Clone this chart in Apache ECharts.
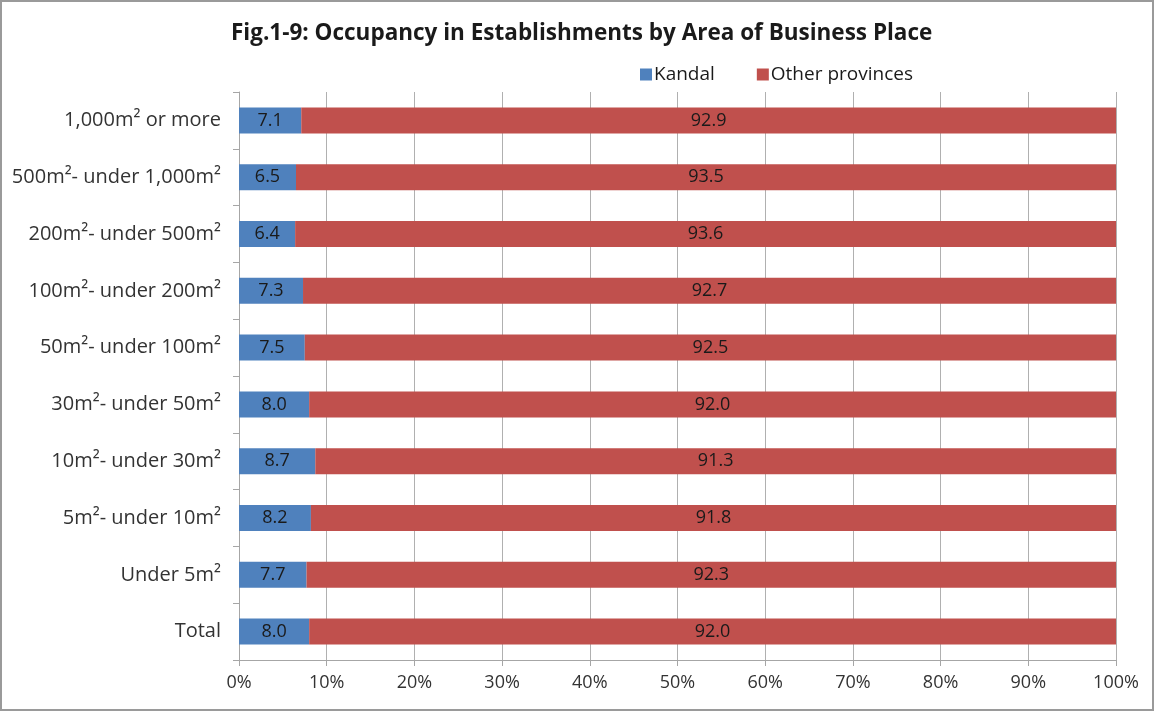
<!DOCTYPE html>
<html>
<head>
<meta charset="utf-8">
<script src="https://cdn.jsdelivr.net/npm/echarts@6/dist/echarts.min.js"></script>
<style>
  html, body { margin: 0; padding: 0; background: #fff; }
  #chart { width: 1154px; height: 711px; box-sizing: border-box; border: 2px solid #9a9a9a; }
</style>
</head>
<body>
<div id="chart"></div>
<script>
// Fig.1-9 — stacked 100% horizontal bars, Kandal vs other provinces.
var categories = [
  "Total",
  "Under 5m²",
  "5m²- under 10m²",
  "10m²- under 30m²",
  "30m²- under 50m²",
  "50m²- under 100m²",
  "100m²- under 200m²",
  "200m²- under 500m²",
  "500m²- under 1,000m²",
  "1,000m² or more"
];
var kandal = [8.0, 7.7, 8.2, 8.7, 8.0, 7.5, 7.3, 6.4, 6.5, 7.1];
var otherProvinces = [92.0, 92.3, 91.8, 91.3, 92.0, 92.5, 92.7, 93.6, 93.5, 92.9];
var xTicks = [0, 10, 20, 30, 40, 50, 60, 70, 80, 90, 100];

(function () {
  var el = document.getElementById("chart");
  var chart = echarts.init(el, null, { renderer: "canvas" });
  var font = "'Open Sans', 'Noto Sans', sans-serif";

  function barLabel() {
    return {
      show: true,
      position: "inside",
      color: "#1a1a1a",
      fontSize: 18,
      fontFamily: font,
      formatter: function (p) { return p.value.toFixed(1); }
    };
  }

  chart.setOption({
    backgroundColor: "#fff",
    animation: false,
    title: {
      text: "Fig.1-9: Occupancy in Establishments by Area of Business Place",
      left: 224,
      top: 15,
      textStyle: { fontSize: 22.5, fontWeight: "bold", color: "#1a1a1a", fontFamily: font }
    },
    legend: {
      data: ["Kandal", "Other provinces"],
      left: 633,
      top: 58,
      icon: "rect",
      itemWidth: 12,
      itemHeight: 12,
      itemGap: 42,
      textStyle: { fontSize: 19, color: "#1a1a1a", fontFamily: font, padding: [0, 0, 0, -3] }
    },
    grid: { left: 237, right: 36, top: 90, bottom: 49, containLabel: false },
    xAxis: {
      type: "value",
      min: 0,
      max: 100,
      interval: 10,
      axisLine: { show: true, lineStyle: { color: "#a6a6a6", width: 1 } },
      axisTick: { show: true, length: 6, lineStyle: { color: "#a6a6a6" } },
      splitLine: { show: true, lineStyle: { color: "#b0b0b0", width: 1 } },
      axisLabel: {
        fontSize: 18,
        color: "#333",
        fontFamily: font,
        margin: 14,
        formatter: function (v) { return xTicks.indexOf(v) >= 0 ? v + "%" : ""; }
      }
    },
    yAxis: {
      type: "category",
      data: categories,
      axisLine: { show: true, lineStyle: { color: "#a6a6a6", width: 1 } },
      axisTick: { show: true, length: 6, alignWithLabel: false, lineStyle: { color: "#a6a6a6" } },
      axisLabel: { fontSize: 20, color: "#333", fontFamily: font, margin: 18 }
    },
    series: [
      {
        name: "Kandal",
        type: "bar",
        stack: "total",
        barWidth: 26,
        itemStyle: { color: "#4f81bd" },
        label: barLabel(),
        data: kandal
      },
      {
        name: "Other provinces",
        type: "bar",
        stack: "total",
        barWidth: 26,
        itemStyle: { color: "#c0504d" },
        label: barLabel(),
        data: otherProvinces
      }
    ]
  });
})();
</script>
</body>
</html>
